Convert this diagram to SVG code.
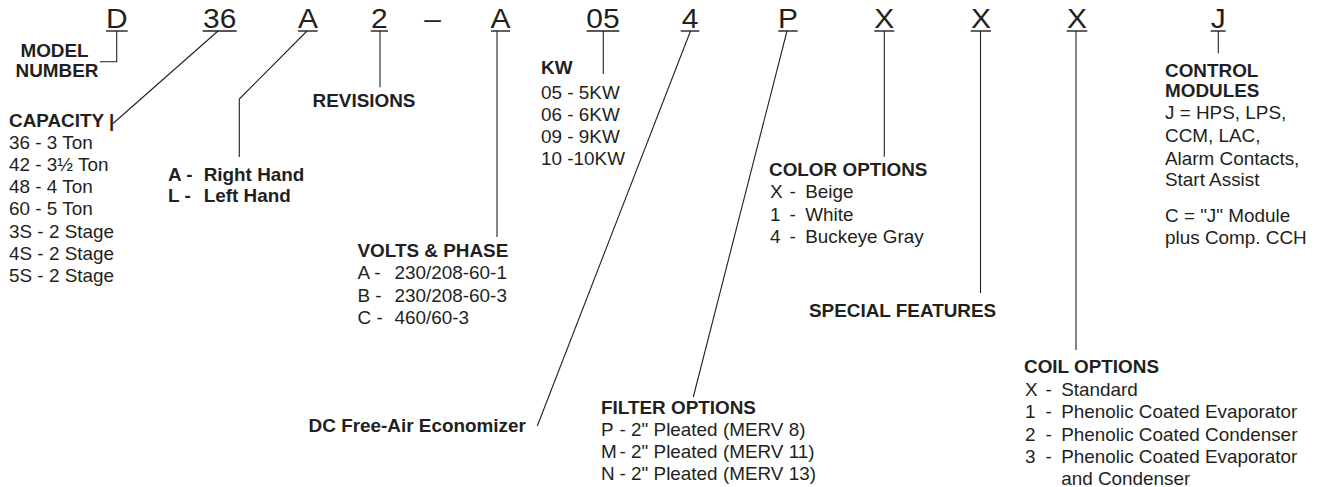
<svg xmlns="http://www.w3.org/2000/svg" width="1319" height="487" viewBox="0 0 1319 487">
<style>
text{font-family:"Liberation Sans",Arial,Helvetica,sans-serif;fill:#231f20}
.c{font-size:28px;text-anchor:middle}
.b{font-size:17.5px;font-weight:bold}
.r{font-size:17.5px}
.m{text-anchor:middle}
.ul{stroke:#231f20;stroke-width:1.4}
#connectors path{fill:none;stroke:#231f20;stroke-width:1.1}
</style>
<rect width="1319" height="487" fill="#ffffff"/>
<g id="code">
<g id="code-D"><text class="c" transform="translate(116.8 27.5) scale(1.07 1)">D</text><line class="ul" x1="106" y1="31" x2="127.7" y2="31"/></g>
<g id="code-36"><text class="c" transform="translate(219.7 27.5) scale(1.07 1)">36</text><line class="ul" x1="202.7" y1="31" x2="236.7" y2="31"/></g>
<g id="code-A1"><text class="c" transform="translate(307.9 27.5) scale(1.07 1)">A</text><line class="ul" x1="298" y1="31" x2="317.7" y2="31"/></g>
<g id="code-2"><text class="c" transform="translate(379.4 27.5) scale(1.07 1)">2</text><line class="ul" x1="370.7" y1="31" x2="388" y2="31"/></g>
<g id="code-dash"><text class="c" transform="translate(432.5 27.5) scale(1.07 1)">–</text></g>
<g id="code-A2"><text class="c" transform="translate(500.5 27.5) scale(1.07 1)">A</text><line class="ul" x1="491" y1="31" x2="510" y2="31"/></g>
<g id="code-05"><text class="c" transform="translate(603 27.5) scale(1.07 1)">05</text><line class="ul" x1="586.7" y1="31" x2="619.3" y2="31"/></g>
<g id="code-4"><text class="c" transform="translate(690 27.5) scale(1.07 1)">4</text><line class="ul" x1="680.7" y1="31" x2="699.3" y2="31"/></g>
<g id="code-P"><text class="c" transform="translate(788 27.5) scale(1.07 1)">P</text><line class="ul" x1="778.3" y1="31" x2="797.7" y2="31"/></g>
<g id="code-X1"><text class="c" transform="translate(884.3 27.5) scale(1.07 1)">X</text><line class="ul" x1="874.3" y1="31" x2="894.3" y2="31"/></g>
<g id="code-X2"><text class="c" transform="translate(980.9 27.5) scale(1.07 1)">X</text><line class="ul" x1="970.7" y1="31" x2="991" y2="31"/></g>
<g id="code-X3"><text class="c" transform="translate(1077 27.5) scale(1.07 1)">X</text><line class="ul" x1="1066.7" y1="31" x2="1087.3" y2="31"/></g>
<g id="code-J"><text class="c" transform="translate(1218.2 27.5) scale(1.07 1)">J</text><line class="ul" x1="1210.7" y1="31" x2="1225.7" y2="31"/></g>
</g>
<g id="connectors">
<path d="M116.7,31 V61.7 H100"/>
<path d="M218,31 L113,123.5"/>
<path d="M307,31 L239.3,99 V157"/>
<path d="M380,31 V87.3"/>
<path d="M497,31 V237"/>
<path d="M603.3,31 V74"/>
<path d="M690.5,31 L537.3,426"/>
<path d="M787,31 L693.3,397"/>
<path d="M884.3,31 V156.7"/>
<path d="M980.5,31 V293"/>
<path d="M1076,31 V350"/>
<path d="M1218.3,31 V53.3"/>
</g>
<g id="model-number">
<text class="b m" transform="translate(54.5 56.7) scale(1.08 1)">MODEL</text>
<text class="b m" transform="translate(57 76.7) scale(1.08 1)">NUMBER</text>
</g>
<g id="capacity">
<text class="b" transform="translate(9 126.7) scale(1.08 1)">CAPACITY |</text>
<text class="r" transform="translate(9 126.7) scale(1.08 1)"><tspan x="0" dy="22.2">36 - 3 Ton</tspan><tspan x="0" dy="22.2">42 - 3½ Ton</tspan><tspan x="0" dy="22.2">48 - 4 Ton</tspan><tspan x="0" dy="22.2">60 - 5 Ton</tspan><tspan x="0" dy="22.2">3S - 2 Stage</tspan><tspan x="0" dy="22.2">4S - 2 Stage</tspan><tspan x="0" dy="22.2">5S - 2 Stage</tspan></text>
</g>
<g id="hand">
<text class="b" transform="translate(168 181) scale(1.08 1)"><tspan x="0">A - </tspan><tspan x="33">Right Hand</tspan><tspan x="0" dy="20.7">L - </tspan><tspan x="33">Left Hand</tspan></text>
</g>
<g id="revisions">
<text class="b" transform="translate(312.6 106.7) scale(1.08 1)">REVISIONS</text>
</g>
<g id="volts-phase">
<text class="b" transform="translate(357.5 257.3) scale(1.08 1)">VOLTS &amp; PHASE</text>
<text class="r" transform="translate(357.5 257.3) scale(1.08 1)"><tspan x="0" dy="22.2">A - </tspan><tspan x="34.3">230/208-60-1</tspan><tspan x="0" dy="22.2">B - </tspan><tspan x="34.3">230/208-60-3</tspan><tspan x="0" dy="22.2">C - </tspan><tspan x="34.3">460/60-3</tspan></text>
</g>
<g id="kw">
<text class="b" transform="translate(541 74) scale(1.08 1)">KW</text>
<text class="r" transform="translate(541 98.8) scale(1.08 1)"><tspan x="0" dy="0">05 - 5KW</tspan><tspan x="0" dy="22">06 - 6KW</tspan><tspan x="0" dy="22">09 - 9KW</tspan><tspan x="0" dy="22">10 -10KW</tspan></text>
</g>
<g id="economizer">
<text class="b" transform="translate(308.6 431.7) scale(1.08 1)">DC Free-Air Economizer</text>
</g>
<g id="filter-options">
<text class="b" transform="translate(601 414) scale(1.08 1)">FILTER OPTIONS</text>
<text class="r" transform="translate(601 414) scale(1.08 1)"><tspan x="0" dy="22.2">P </tspan><tspan x="17.2">- 2" Pleated (MERV 8)</tspan><tspan x="0" dy="21.8">M </tspan><tspan x="17.2">- 2" Pleated (MERV 11)</tspan><tspan x="0" dy="21.8">N </tspan><tspan x="17.2">- 2" Pleated (MERV 13)</tspan></text>
</g>
<g id="color-options">
<text class="b" transform="translate(769 175.7) scale(1.08 1)">COLOR OPTIONS</text>
<text class="r" transform="translate(769 175.7) scale(1.08 1)"><tspan x="0.9" dy="22.5">X </tspan><tspan x="19.1">- </tspan><tspan x="33.5">Beige</tspan><tspan x="0.9" dy="22.5">1 </tspan><tspan x="19.1">- </tspan><tspan x="33.5">White</tspan><tspan x="0.9" dy="22.5">4 </tspan><tspan x="19.1">- </tspan><tspan x="33.5">Buckeye Gray</tspan></text>
</g>
<g id="special-features">
<text class="b" transform="translate(809 317) scale(1.08 1)">SPECIAL FEATURES</text>
</g>
<g id="coil-options">
<text class="b" transform="translate(1024 373.3) scale(1.08 1)">COIL OPTIONS</text>
<text class="r" transform="translate(1024 373.3) scale(1.08 1)"><tspan x="0.9" dy="23">X </tspan><tspan x="20">- </tspan><tspan x="34.4">Standard</tspan><tspan x="0.9" dy="22">1 </tspan><tspan x="20">- </tspan><tspan x="34.4">Phenolic Coated Evaporator</tspan><tspan x="0.9" dy="22.3">2 </tspan><tspan x="20">- </tspan><tspan x="34.4">Phenolic Coated Condenser</tspan><tspan x="0.9" dy="22.3">3 </tspan><tspan x="20">- </tspan><tspan x="34.4">Phenolic Coated Evaporator</tspan><tspan x="34.4" dy="22">and Condenser</tspan></text>
</g>
<g id="control-modules">
<text class="b" transform="translate(1165 76.7) scale(1.08 1)"><tspan x="0">CONTROL</tspan><tspan x="0" dy="20.6">MODULES</tspan></text>
<text class="r" transform="translate(1165 97.3) scale(1.08 1)"><tspan x="0" dy="22">J = HPS, LPS,</tspan><tspan x="0" dy="22.4">CCM, LAC,</tspan><tspan x="0" dy="22.9">Alarm Contacts,</tspan><tspan x="0" dy="21.8">Start Assist</tspan><tspan x="0" dy="36">C = "J" Module</tspan><tspan x="0" dy="21.3">plus Comp. CCH</tspan></text>
</g>
</svg>
